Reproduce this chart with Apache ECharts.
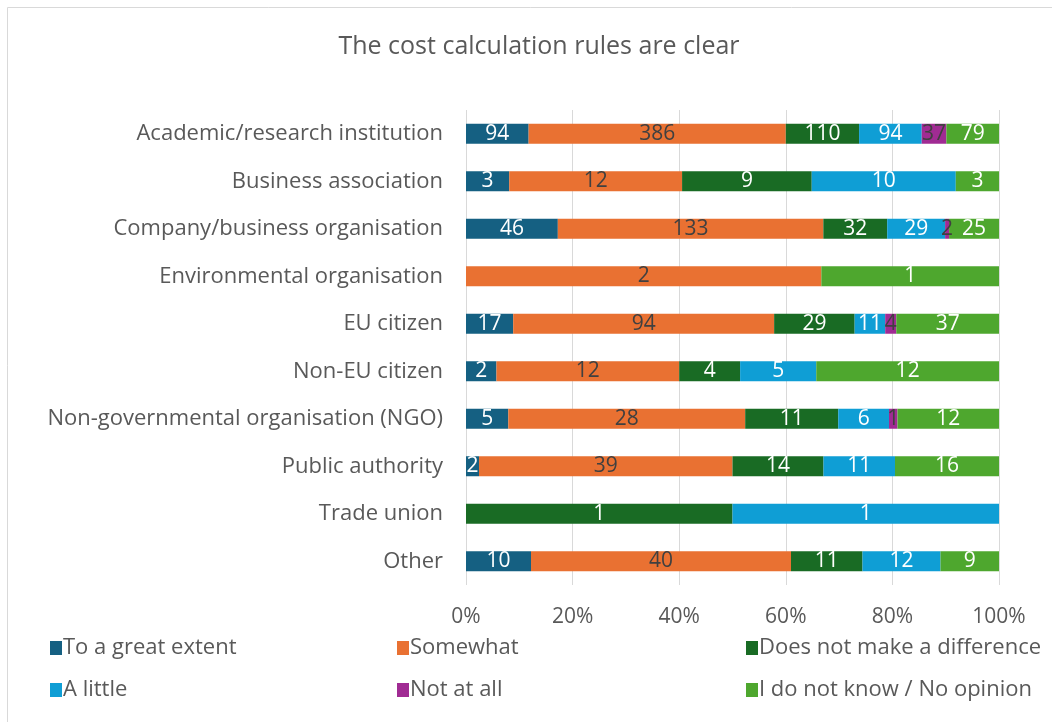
<!DOCTYPE html>
<html><head><meta charset="utf-8">
<script src="https://cdn.jsdelivr.net/npm/echarts@6/dist/echarts.min.js"></script>
<style>html,body{margin:0;padding:0;background:#fff}#c{width:1052px;height:722px}</style>
</head><body><div id="c"></div>
<script>
const categories = ["Academic/research institution","Business association","Company/business organisation","Environmental organisation","EU citizen","Non-EU citizen","Non-governmental organisation (NGO)","Public authority","Trade union","Other"];
const seriesNames = ["To a great extent","Somewhat","Does not make a difference","A little","Not at all","I do not know / No opinion"];
const toAGreatExtent = [94,3,46,0,17,2,5,2,0,10];
const somewhat = [386,12,133,2,94,12,28,39,0,40];
const noDifference = [110,9,32,0,29,4,11,14,1,11];
const aLittle = [94,10,29,0,11,5,6,11,1,12];
const notAtAll = [37,0,2,0,4,0,1,0,0,0];
const noOpinion = [79,3,25,1,37,12,12,16,0,9];
const xTicks = [0,20,40,60,80,100];

const colors = ["#156082","#E97132","#196B24","#0F9ED5","#A02B93","#4EA72E"];
const labelColors = ["#ffffff","#404040","#ffffff","#ffffff","#404040","#ffffff"];
const FONT = "Open Sans";
const raw = [toAGreatExtent, somewhat, noDifference, aLittle, notAtAll, noOpinion];
const totals = categories.map((_, i) => raw.reduce((s, a) => s + a[i], 0));

const series = raw.map((arr, k) => ({
  name: seriesNames[k],
  type: 'bar',
  stack: 'total',
  barWidth: 20,
  itemStyle: { color: colors[k] },
  label: {
    show: true,
    position: 'inside',
    color: labelColors[k],
    fontFamily: FONT,
    fontSize: 21,
    formatter: p => (arr[p.dataIndex] > 0 ? String(arr[p.dataIndex]) : '')
  },
  data: arr.map((v, i) => v / totals[i] * 100)
}));

const chart = echarts.init(document.getElementById('c'));
chart.setOption({
  animation: false,
  textStyle: { fontFamily: FONT },
  title: {
    text: 'The cost calculation rules are clear',
    left: 534, top: 29, textAlign: 'center',
    textStyle: { fontFamily: FONT, fontSize: 25, fontWeight: 'normal', color: '#595959' }
  },
  graphic: [{
    type: 'rect', shape: { x: 7.5, y: 7.5, width: 1070, height: 740 },
    style: { fill: 'none', stroke: '#d9d9d9', lineWidth: 1 }, silent: true
  }],
  legend: [0, 1, 2].map(c => ({
    orient: 'vertical',
    left: [45, 392, 741][c],
    top: 632,
    itemGap: 20,
    itemWidth: 12, itemHeight: 14,
    icon: 'rect',
    textStyle: { fontFamily: FONT, fontSize: 22, color: '#595959', padding: [0, 0, 0, -4] },
    data: [seriesNames[c], seriesNames[c + 3]]
  })),
  grid: { left: 466, right: 53, top: 110, bottom: 137, containLabel: false },
  xAxis: {
    type: 'value', min: 0, max: 100, interval: 20,
    axisLabel: { formatter: v => xTicks.includes(v) ? v + '%' : '', fontFamily: FONT, fontSize: 21, color: '#595959', margin: 22 },
    axisLine: { show: false }, axisTick: { show: false },
    splitLine: { show: true, lineStyle: { color: '#d9d9d9', width: 1 } }
  },
  yAxis: {
    type: 'category', data: categories, inverse: true,
    axisLine: { show: false }, axisTick: { show: false },
    axisLabel: { fontFamily: FONT, fontSize: 22, color: '#595959', margin: 23 }
  },
  series
});
</script></body></html>
